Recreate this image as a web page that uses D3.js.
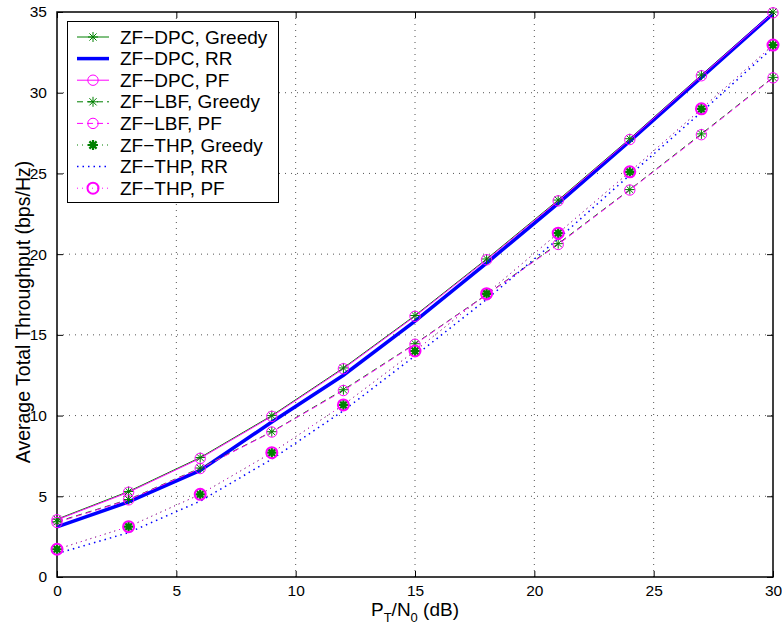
<!DOCTYPE html>
<html><head><meta charset="utf-8">
<script src="https://cdn.jsdelivr.net/npm/d3@7"></script>
<style>body{margin:0;background:#fff}svg{display:block}text{font-family:"Liberation Sans",Arial,sans-serif}</style>
</head><body>
<svg id="c" width="782" height="633"></svg>
<script>
const snr = [0, 3, 6, 9, 12, 15, 18, 21, 24, 27, 30];
const dpcGreedy = [3.58, 5.3, 7.4, 10.0, 12.95, 16.2, 19.7, 23.35, 27.15, 31.1, 35.0];
const dpcRR     = [3.1, 4.65, 6.6, 9.6, 12.5, 15.85, 19.45, 23.15, 27.0, 30.95, 34.9];
const dpcPF     = [3.54, 5.25, 7.35, 9.95, 12.9, 16.15, 19.65, 23.3, 27.1, 31.05, 34.95];
const lbfGreedy = [3.42, 4.8, 6.75, 9.0, 11.6, 14.45, 17.5, 20.65, 24.0, 27.45, 30.95];
const lbfPF     = [3.38, 4.78, 6.72, 8.98, 11.55, 14.42, 17.48, 20.6, 23.97, 27.4, 30.92];
const thpGreedy = [1.72, 3.12, 5.12, 7.7, 10.66, 14.0, 17.55, 21.3, 25.1, 29.0, 32.95];
const thpRR     = [1.45, 2.75, 4.7, 7.3, 10.3, 13.7, 17.2, 20.95, 24.9, 28.8, 32.8];
const thpPF     = [1.72, 3.12, 5.12, 7.7, 10.66, 14.0, 17.55, 21.3, 25.1, 29.0, 32.95];
const xTicks = [0, 5, 10, 15, 20, 25, 30];
const yTicks = [0, 5, 10, 15, 20, 25, 30, 35];
const legendLabels = ["ZF\u2212DPC, Greedy","ZF\u2212DPC, RR","ZF\u2212DPC, PF","ZF\u2212LBF, Greedy","ZF\u2212LBF, PF","ZF\u2212THP, Greedy","ZF\u2212THP, RR","ZF\u2212THP, PF"];

const GREEN = "#008000", BLUE = "#0000ff", MAG = "#ff00ff";
const series = [
  {name: legendLabels[0], data: dpcGreedy, color: GREEN, w: 1, dash: null, marker: "star", mw: 1},
  {name: legendLabels[1], data: dpcRR, color: BLUE, w: 3.5, dash: null, marker: null},
  {name: legendLabels[2], data: dpcPF, color: MAG, w: 1, dash: null, marker: "circle", mw: 1},
  {name: legendLabels[3], data: lbfGreedy, color: GREEN, w: 1, dash: "6,4", marker: "star", mw: 1},
  {name: legendLabels[4], data: lbfPF, color: MAG, w: 1, dash: "6,4", marker: "circle", mw: 1},
  {name: legendLabels[5], data: thpGreedy, color: GREEN, w: 1, dash: "1,4", marker: "star", mw: 2.2},
  {name: legendLabels[6], data: thpRR, color: BLUE, w: 1.5, dash: "1.5,4", marker: null},
  {name: legendLabels[7], data: thpPF, color: MAG, w: 1, dash: "1,4", marker: "circle", mw: 2}
];

const L = 57, R = 773, T = 12, B = 577;
const x = d3.scaleLinear().domain([0, 30]).range([L, R]);
const y = d3.scaleLinear().domain([0, 35]).range([B, T]);
const svg = d3.select("#c");

// grid
const g = svg.append("g");
xTicks.forEach(t => { if (t > 0 && t < 30) g.append("line").attr("x1", x(t)).attr("x2", x(t)).attr("y1", T).attr("y2", B).attr("stroke", "#555").attr("stroke-width", 1).attr("stroke-dasharray", "1,5"); });
yTicks.forEach(t => { if (t > 0 && t < 35) g.append("line").attr("x1", L).attr("x2", R).attr("y1", y(t)).attr("y2", y(t)).attr("stroke", "#555").attr("stroke-width", 1).attr("stroke-dasharray", "1,5"); });

// axes
const xAx = svg.append("g").attr("transform", `translate(0,${B})`).call(d3.axisBottom(x).tickValues(xTicks).tickSize(-6).tickPadding(8));
const xAxT = svg.append("g").attr("transform", `translate(0,${T})`).call(d3.axisTop(x).tickValues(xTicks).tickSize(-6).tickFormat(""));
const yAx = svg.append("g").attr("transform", `translate(${L},0)`).call(d3.axisLeft(y).tickValues(yTicks).tickSize(-6).tickPadding(10));
const yAxR = svg.append("g").attr("transform", `translate(${R},0)`).call(d3.axisRight(y).tickValues(yTicks).tickSize(-6).tickFormat(""));
[xAx, xAxT, yAx, yAxR].forEach(a => { a.select(".domain").remove(); a.selectAll("line").attr("stroke", "#000"); a.selectAll("text").attr("font-size", 15.5).attr("fill", "#000").attr("font-family", "Liberation Sans, Arial, sans-serif"); });
svg.append("rect").attr("x", L).attr("y", T).attr("width", R - L).attr("height", B - T).attr("fill", "none").attr("stroke", "#000").attr("stroke-width", 1.5);

// lines
const line = d3.line().x((d, i) => x(snr[i])).y(d => y(d));
function star(sel, cx, cy, color, w, s) {
  const a = s * 0.72;
  sel.append("path").attr("d", `M${cx - s},${cy}L${cx + s},${cy}M${cx},${cy - s}L${cx},${cy + s}M${cx - a},${cy - a}L${cx + a},${cy + a}M${cx - a},${cy + a}L${cx + a},${cy - a}`)
    .attr("stroke", color).attr("stroke-width", w).attr("fill", "none");
}
const plot = svg.append("g");
series.forEach(s => {
  plot.append("path").datum(s.data).attr("d", line).attr("fill", "none").attr("stroke", s.color).attr("stroke-width", s.w).attr("stroke-dasharray", s.dash);
});
series.forEach(s => {
  if (!s.marker) return;
  s.data.forEach((v, i) => {
    if (s.marker === "star") star(plot, x(snr[i]), y(v), s.color, s.mw, 5);
    else plot.append("circle").attr("cx", x(snr[i])).attr("cy", y(v)).attr("r", s.mw > 1 ? 5.5 : 5.2).attr("fill", "none").attr("stroke", s.color).attr("stroke-width", s.mw);
  });
});

// legend
const lg = svg.append("g");
lg.append("rect").attr("x", 67.5).attr("y", 21.5).attr("width", 211).attr("height", 181).attr("fill", "#fff").attr("stroke", "#000").attr("stroke-width", 1);
series.forEach((s, i) => {
  const yy = 37 + i * 21.6;
  lg.append("line").attr("x1", 77).attr("x2", 109).attr("y1", yy).attr("y2", yy).attr("stroke", s.color).attr("stroke-width", s.w).attr("stroke-dasharray", s.dash);
  if (s.marker === "star") star(lg, 93, yy, s.color, s.mw, 5);
  else if (s.marker === "circle") lg.append("circle").attr("cx", 93).attr("cy", yy).attr("r", s.mw > 1 ? 5.5 : 5.2).attr("fill", "none").attr("stroke", s.color).attr("stroke-width", s.mw);
  lg.append("text").attr("x", 120).attr("y", yy + 6.5).attr("font-size", 19).text(s.name);
});

// axis labels
svg.append("text").attr("transform", "translate(30,312) rotate(-90)").attr("text-anchor", "middle").attr("font-size", 19.5).text("Average Total Throughput (bps/Hz)");
const xl = svg.append("text").attr("x", 415).attr("y", 616).attr("text-anchor", "middle").attr("font-size", 19);
xl.append("tspan").text("P");
xl.append("tspan").attr("font-size", 13).attr("dy", 6).text("T");
xl.append("tspan").attr("dy", -6).text("/N");
xl.append("tspan").attr("font-size", 13).attr("dy", 6).text("0");
xl.append("tspan").attr("dy", -6).text(" (dB)");
</script>
</body></html>
